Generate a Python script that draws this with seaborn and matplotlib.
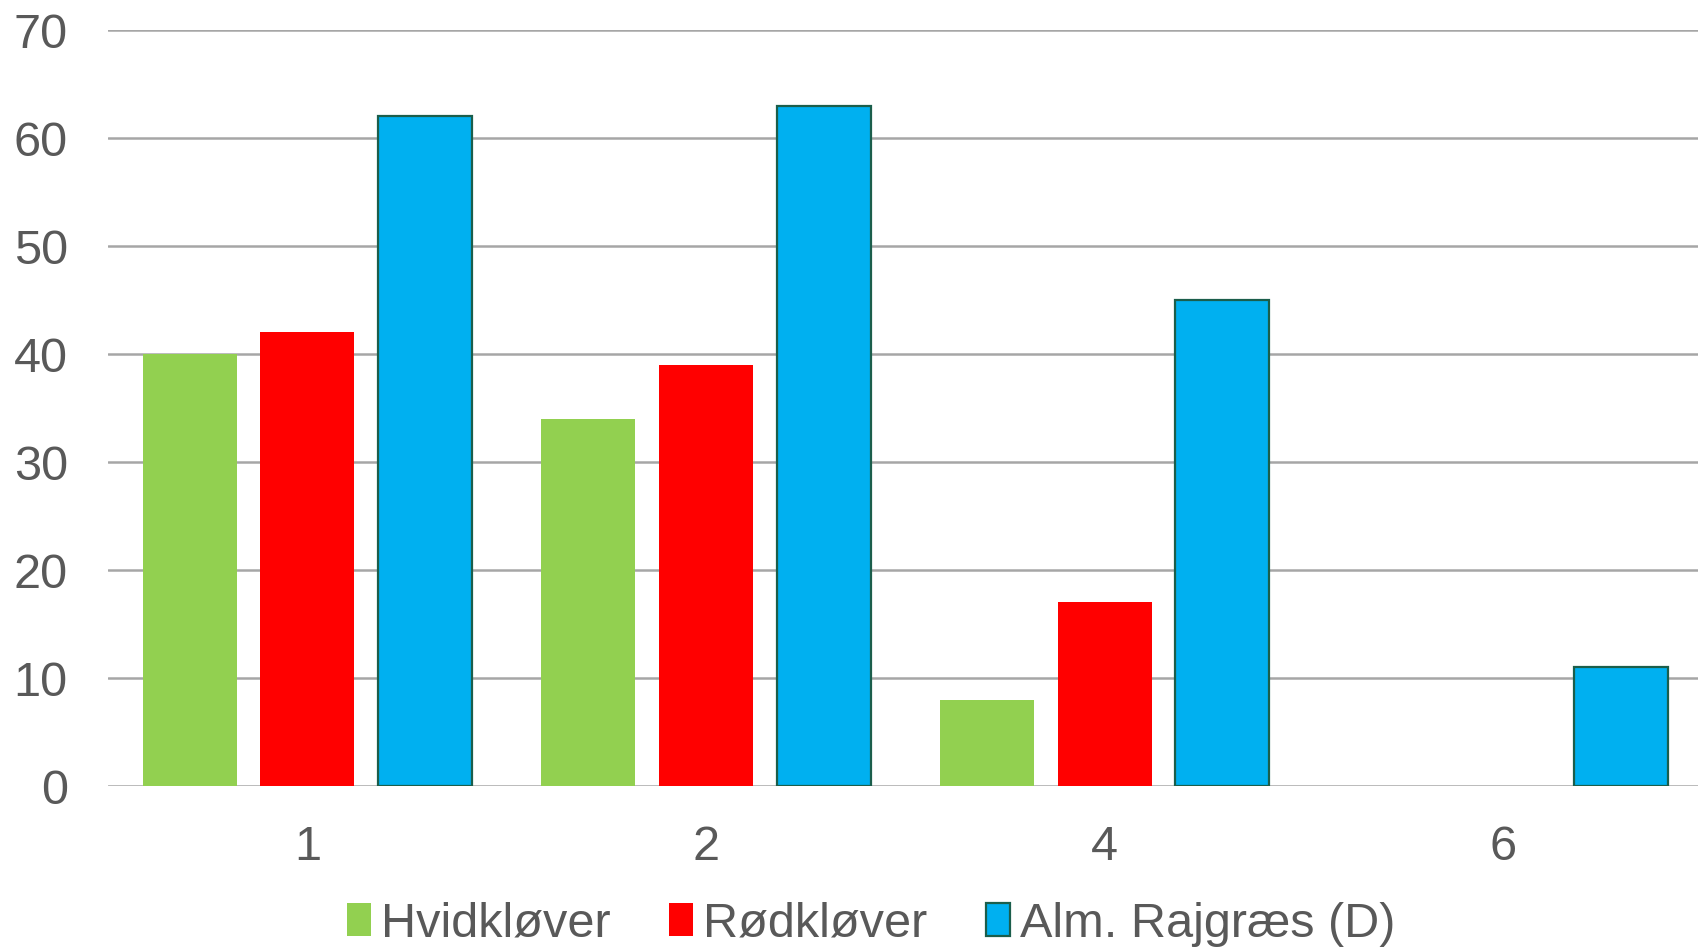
import pandas as pd
import matplotlib.pyplot as plt
import seaborn as sns

# Data
kategorier = ['1', '2', '4', '6']
hvidklover = [40, 34, 8, 0]
rodklover = [42, 39, 17, 0]
rajgraes = [62, 63, 45, 11]

serier = ['Hvidkløver', 'Rødkløver', 'Alm. Rajgræs (D)']
farver = ['#92D050', '#FF0000', '#00B0F0']

dados = pd.DataFrame({
    'kategori': kategorier * 3,
    'serie': [serier[0]] * 4 + [serier[1]] * 4 + [serier[2]] * 4,
    'vaerdi': hvidklover + rodklover + rajgraes,
})

sns.set_style('white')
plt.rcParams['font.family'] = ['Liberation Sans', 'DejaVu Sans']

fig = plt.figure(figsize=(16.98, 9.47), dpi=100)
ax = fig.add_axes([108 / 1698, 1 - 786 / 947, 4 * 398.7 / 1698, (786 - 30) / 947])

sns.barplot(data=dados, x='kategori', y='vaerdi', hue='serie', order=kategorier,
            hue_order=serier, palette=farver, width=0.885, gap=0.2,
            linewidth=0, saturation=1, ax=ax, legend=False)

# blue bars get a dark outline
for bar in ax.containers[2]:
    bar.set_edgecolor('#1B5E4B')
    bar.set_linewidth(1.6)

ax.set_ylim(0, 70)
ax.set_yticks(range(0, 71, 10))
ax.set_xlim(-0.5, 3.5)
ax.yaxis.grid(True, color='#A6A6A6', linewidth=1.8)
ax.set_axisbelow(True)
for s in ax.spines.values():
    s.set_visible(False)
ax.set_xlabel('')
ax.set_ylabel('')
ax.tick_params(axis='y', length=0, pad=29, labelsize=35, labelcolor='#595959')
ax.tick_params(axis='x', length=0, pad=28, labelsize=35, labelcolor='#595959')

handles = [plt.Rectangle((0, 0), 1, 1, facecolor=farver[0], edgecolor='none'),
           plt.Rectangle((0, 0), 1, 1, facecolor=farver[1], edgecolor='none'),
           plt.Rectangle((0, 0), 1, 1, facecolor=farver[2], edgecolor='#1B5E4B', linewidth=1.6)]
leg = fig.legend(handles, serier, loc='center', bbox_to_anchor=(0.513, 0.024), ncol=3,
                 frameon=False, fontsize=35, handlelength=0.5, handleheight=0.65,
                 handletextpad=0.2, columnspacing=1.2, labelcolor='#595959')

plt.savefig('out.png', dpi=100)
